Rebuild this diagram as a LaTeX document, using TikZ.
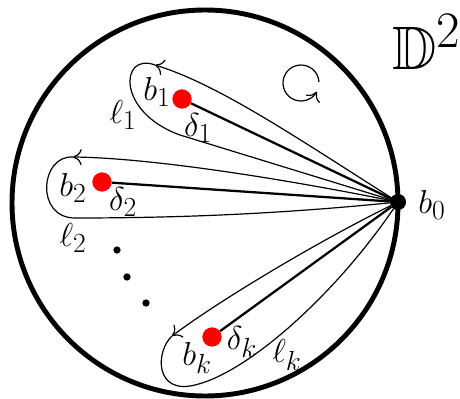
\documentclass[tikz,border=0pt]{standalone}
\usepackage{amssymb}
\usetikzlibrary{arrows.meta}
\tikzset{
  rim/.style={line width=3.7pt},
  puncture/.style={circle, fill=red, inner sep=0pt, minimum size=14.5pt},
  basept/.style={circle, fill=black, inner sep=0pt, minimum size=12pt},
  gapdot/.style={circle, fill=black, inner sep=0pt, minimum size=5.5pt},
  tether/.style={line width=1.7pt},
  loopline/.style={line width=0.9pt},
  looparrow/.style={loopline, -{To[length=6.5pt,width=12pt]}},
  lbl/.style={font=\Huge, inner sep=0pt}
}
\begin{document}
\begin{tikzpicture}[x=0.75pt, y=-0.75pt]
\useasboundingbox (0,0) rectangle (460,399);
\draw[rim] (205,203) circle[radius=144.75pt];

\node[basept] (b0) at (398,202) {};
\node[puncture] (p1) at (182,99) {};
\node[puncture] (p2) at (102,182) {};
\node[puncture] (pk) at (212,337) {};

\draw[tether] (p1) -- (b0);
\draw[tether] (p2) -- (b0);
\draw[tether] (pk) -- (b0);

\coordinate (t1) at (155,65);
\coordinate (t2) at (73,157);
\coordinate (tk) at (172,336);
\draw[looparrow] (b0.center) .. controls (300,140) and (220,85) .. (t1);
\draw[loopline] (t1) .. controls (120,52) and (116,112) .. (180,135) -- (b0.center);
\draw[looparrow] (b0.center) .. controls (280,178) and (150,158) .. (t2);
\draw[loopline] (t2) .. controls (40,155) and (35,218) .. (75,218) .. controls (200,218) and (300,212) .. (b0.center);
\draw[looparrow] (b0.center) .. controls (320,240) and (220,300) .. (tk);
\draw[loopline] (tk) .. controls (155,352) and (155,395) .. (195,385) .. controls (250,372) and (340,290) .. (b0.center);

\foreach \p [count=\i] in {(117,250),(127,277),(146,303)}
  \node[gapdot] (dot\i) at \p {};

\coordinate (spin) at (301,83);
\draw[looparrow] ([shift={(3:13.5pt)}]spin) arc[start angle=3, end angle=331, radius=13.5pt];

\node[lbl] (lb1) at (157,92) {$b_1$};
\node[lbl] (ld1) at (198,128) {$\delta_1$};
\node[lbl] (ll1) at (123,115) {$\ell_1$};
\node[lbl] (lb2) at (73,188) {$b_2$};
\node[lbl] (ld2) at (123,202) {$\delta_2$};
\node[lbl] (ll2) at (73,238) {$\ell_2$};
\node[lbl] (lbk) at (197,358) {$b_k$};
\node[lbl] (ldk) at (242,342) {$\delta_k$};
\node[lbl] (llk) at (287,355) {$\ell_k$};
\node[lbl] (lb0) at (432,205) {$b_0$};
\node[lbl, scale=1.85, transform shape] (disk) at (427,42) {$\mathbb{D}^2$};
\end{tikzpicture}
\end{document}
